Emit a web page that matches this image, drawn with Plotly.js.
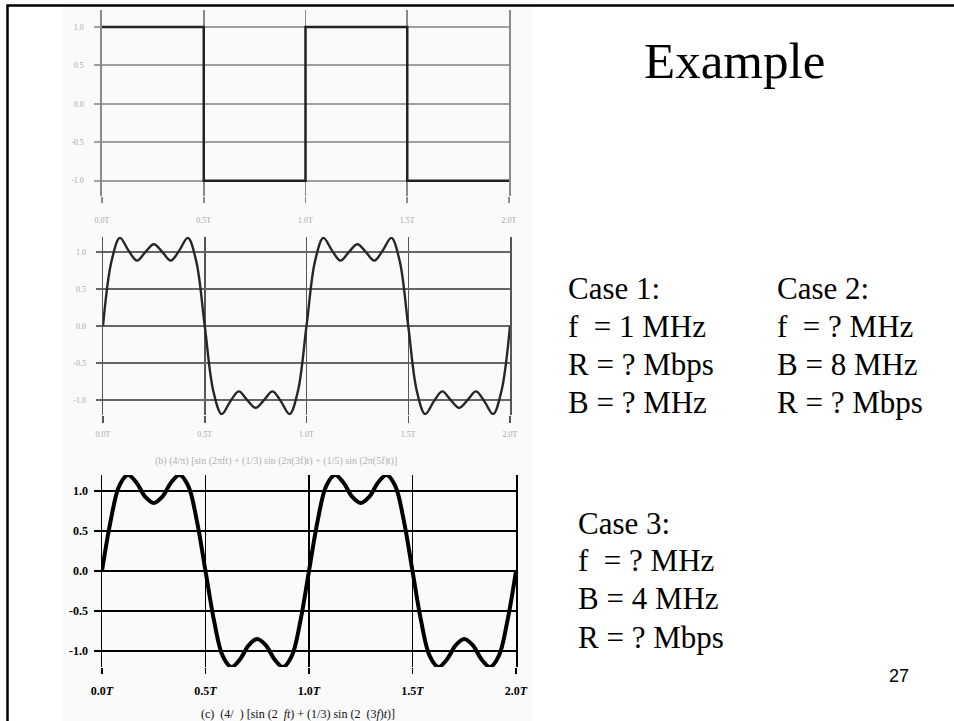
<!DOCTYPE html>
<html>
<head>
<meta charset="utf-8">
<script src="https://cdn.plot.ly/plotly-3.0.1.min.js"></script>
<style>html,body{margin:0;padding:0;background:#fff;}#chart{width:954px;height:721px;}</style>
</head>
<body>
<div id="chart"></div>
<script>
// ---- data ----
const timeTicks = [0, 0.5, 1, 1.5, 2];
const timeLabels = ['0.0T', '0.5T', '1.0T', '1.5T', '2.0T'];
const ampTicks = [-1, -0.5, 0, 0.5, 1];
const ampLabels = ['-1.0', '-0.5', '0.0', '0.5', '1.0'];

// (a) square wave
const squareT = [0, 0.5, 1, 1.5, 2];
const squareV = [1, -1, 1, -1, -1];

// sample times (in units of T)
const sampleT = [0, 0.042, 0.083, 0.125, 0.167, 0.208, 0.25, 0.292, 0.333, 0.375, 0.417, 0.458,
  0.5, 0.542, 0.583, 0.625, 0.667, 0.708, 0.75, 0.792, 0.833, 0.875, 0.917, 0.958,
  1, 1.042, 1.083, 1.125, 1.167, 1.208, 1.25, 1.292, 1.333, 1.375, 1.417, 1.458,
  1.5, 1.542, 1.583, 1.625, 1.667, 1.708, 1.75, 1.792, 1.833, 1.875, 1.917, 1.958, 2];

// (b) three-harmonic wave
const wave3V = [0, 0.876, 1.188, 1.020, 0.882, 0.996, 1.103, 0.996, 0.882, 1.020, 1.188, 0.876,
  0, -0.876, -1.188, -1.020, -0.882, -0.996, -1.103, -0.996, -0.882, -1.020, -1.188, -0.876,
  0, 0.876, 1.188, 1.020, 0.882, 0.996, 1.103, 0.996, 0.882, 1.020, 1.188, 0.876,
  0, -0.876, -1.188, -1.020, -0.882, -0.996, -1.103, -0.996, -0.882, -1.020, -1.188, -0.876, 0];

// (c) two-harmonic wave
const wave2V = [0, 0.630, 1.061, 1.200, 1.103, 0.930, 0.849, 0.930, 1.103, 1.200, 1.061, 0.630,
  0, -0.630, -1.061, -1.200, -1.103, -0.930, -0.849, -0.930, -1.103, -1.200, -1.061, -0.630,
  0, 0.630, 1.061, 1.200, 1.103, 0.930, 0.849, 0.930, 1.103, 1.200, 1.061, 0.630,
  0, -0.630, -1.061, -1.200, -1.103, -0.930, -0.849, -0.930, -1.103, -1.200, -1.061, -0.630, 0];

const captionB = '(b) (4/π) [sin (2πft) + (1/3) sin (2π(3f)t) + (1/5) sin (2π(5f)t)]';
const captionC = '(c)\u00A0 (4/\u00A0\u00A0) [sin (2\u00A0\u00A0<i>ft</i>) + (1/3) sin (2\u00A0\u00A0(3<i>f</i>)<i>t</i>)]';
const slideTitle = 'Example';
const case1 = ['Case 1:', 'f\u00A0 = 1 MHz', 'R = ? Mbps', 'B = ? MHz'];
const case2 = ['Case 2:', 'f\u00A0 = ? MHz', 'B = 8 MHz', 'R = ? Mbps'];
const case3 = ['Case 3:', 'f\u00A0 = ? MHz', 'B = 4 MHz', 'R = ? Mbps'];
const pageNo = '27';

// ---- layout helpers ----
const W = 954, H = 721;
const px = x => x / W;
const py = y => 1 - y / H;
const serif = 'Liberation Serif, Times New Roman, serif';

const traces = [
  {x: squareT, y: squareV, xaxis: 'x', yaxis: 'y', mode: 'lines',
   line: {shape: 'hv', color: '#222', width: 2.5}, hoverinfo: 'skip'},
  {x: sampleT, y: wave3V, xaxis: 'x2', yaxis: 'y2', mode: 'lines',
   line: {shape: 'spline', smoothing: 1, color: '#262626', width: 2.4}, hoverinfo: 'skip'},
  {x: sampleT, y: wave2V, xaxis: 'x3', yaxis: 'y3', mode: 'lines',
   line: {shape: 'spline', smoothing: 1, color: '#000', width: 4}, hoverinfo: 'skip'}
];

function xa(dom, anchor, gcol, gw, tfont, tl, standoff, labels) {
  return {domain: dom, anchor: anchor, range: [0, 2], tickmode: 'array',
    tickvals: timeTicks, ticktext: labels, showgrid: true, gridcolor: gcol, gridwidth: gw,
    zeroline: false, showline: false, ticks: 'outside', ticklen: tl, tickwidth: gw,
    tickcolor: gcol, tickfont: tfont, ticklabelstandoff: standoff, fixedrange: true};
}
function ya(dom, anchor, range, gcol, gw, tfont, tl, standoff, vcol, vw) {
  return {domain: dom, anchor: anchor, range: range, tickmode: 'array',
    tickvals: ampTicks, ticktext: ampLabels, showgrid: true, gridcolor: gcol, gridwidth: gw,
    zeroline: false, showline: true, mirror: true, linecolor: vcol, linewidth: vw,
    ticks: 'outside', ticklen: tl, tickwidth: gw,
    tickcolor: gcol, tickfont: tfont, ticklabelstandoff: standoff, fixedrange: true};
}

const faintFont = {family: serif, size: 8, color: '#a8a8a8'};
const boldFont = {family: serif, size: 12, color: '#000', weight: 'bold'};

const lbl3 = timeLabels.map(s => '<b>' + s.slice(0, -1) + '<i>T</i></b>');

const annotations = [];
function addText(text, x, y, size, xanchor, family, color) {
  annotations.push({text: text, x: px(x), y: py(y), xref: 'paper', yref: 'paper',
    xanchor: xanchor, yanchor: 'middle', showarrow: false,
    font: {family: family || serif, size: size, color: color || '#000'}});
}
addText(captionB, 276, 461, 10, 'center', serif, '#b0b0b0');
addText(captionC, 298, 714, 12, 'center', serif, '#111');
addText(slideTitle, 734, 61, 51, 'center');
const rowY1 = [288, 326, 364, 402];
const rowY3 = [523, 560, 598, 637];
case1.forEach((t, i) => addText(t, 566, rowY1[i], 31, 'left'));
case2.forEach((t, i) => addText(t, 775, rowY1[i], 31, 'left'));
case3.forEach((t, i) => addText(t, 576, rowY3[i], 31, 'left'));
addText(pageNo, 899, 676, 18, 'center', 'Liberation Sans, Arial, sans-serif');

const shapes = [
  {type: 'rect', xref: 'paper', yref: 'paper', x0: px(63), x1: px(532), y0: py(721), y1: py(7),
   fillcolor: '#fafafa', line: {width: 0}, layer: 'below'},
  {type: 'path', xref: 'paper', yref: 'paper',
   path: `M ${px(7.5)} 0 L ${px(7.5)} ${py(5.5)} L 1 ${py(5.5)}`,
   line: {color: '#000', width: 2.5}}
];

const layout = {
  width: W, height: H, margin: {l: 0, r: 0, t: 0, b: 0, pad: 0},
  paper_bgcolor: '#fff', plot_bgcolor: 'rgba(0,0,0,0)', showlegend: false,
  xaxis: xa([px(102), px(509)], 'y', '#8a8a8a', 1.6, faintFont, 6, 10, timeLabels),
  yaxis: ya([py(196), py(10)], 'x', [-1.2, 1.22], '#a0a0a0', 2, faintFont, 6, 9, '#8a8a8a', 1.6),
  xaxis2: xa([px(103), px(510)], 'y2', '#555', 1.5, faintFont, 7, 4, timeLabels),
  yaxis2: ya([py(415), py(237)], 'x2', [-1.2, 1.2], '#666', 1.5, faintFont, 6, 8, '#555', 1.5),
  xaxis3: xa([px(102), px(516)], 'y3', '#000', 1.5, boldFont, 6, 7, lbl3),
  yaxis3: ya([py(667), py(475)], 'x3', [-1.2, 1.2], '#000', 1.5, boldFont, 7, 3, '#000', 1.5),
  annotations: annotations,
  shapes: shapes
};

Plotly.newPlot('chart', traces, layout, {staticPlot: true, displayModeBar: false});
</script>
</body>
</html>
